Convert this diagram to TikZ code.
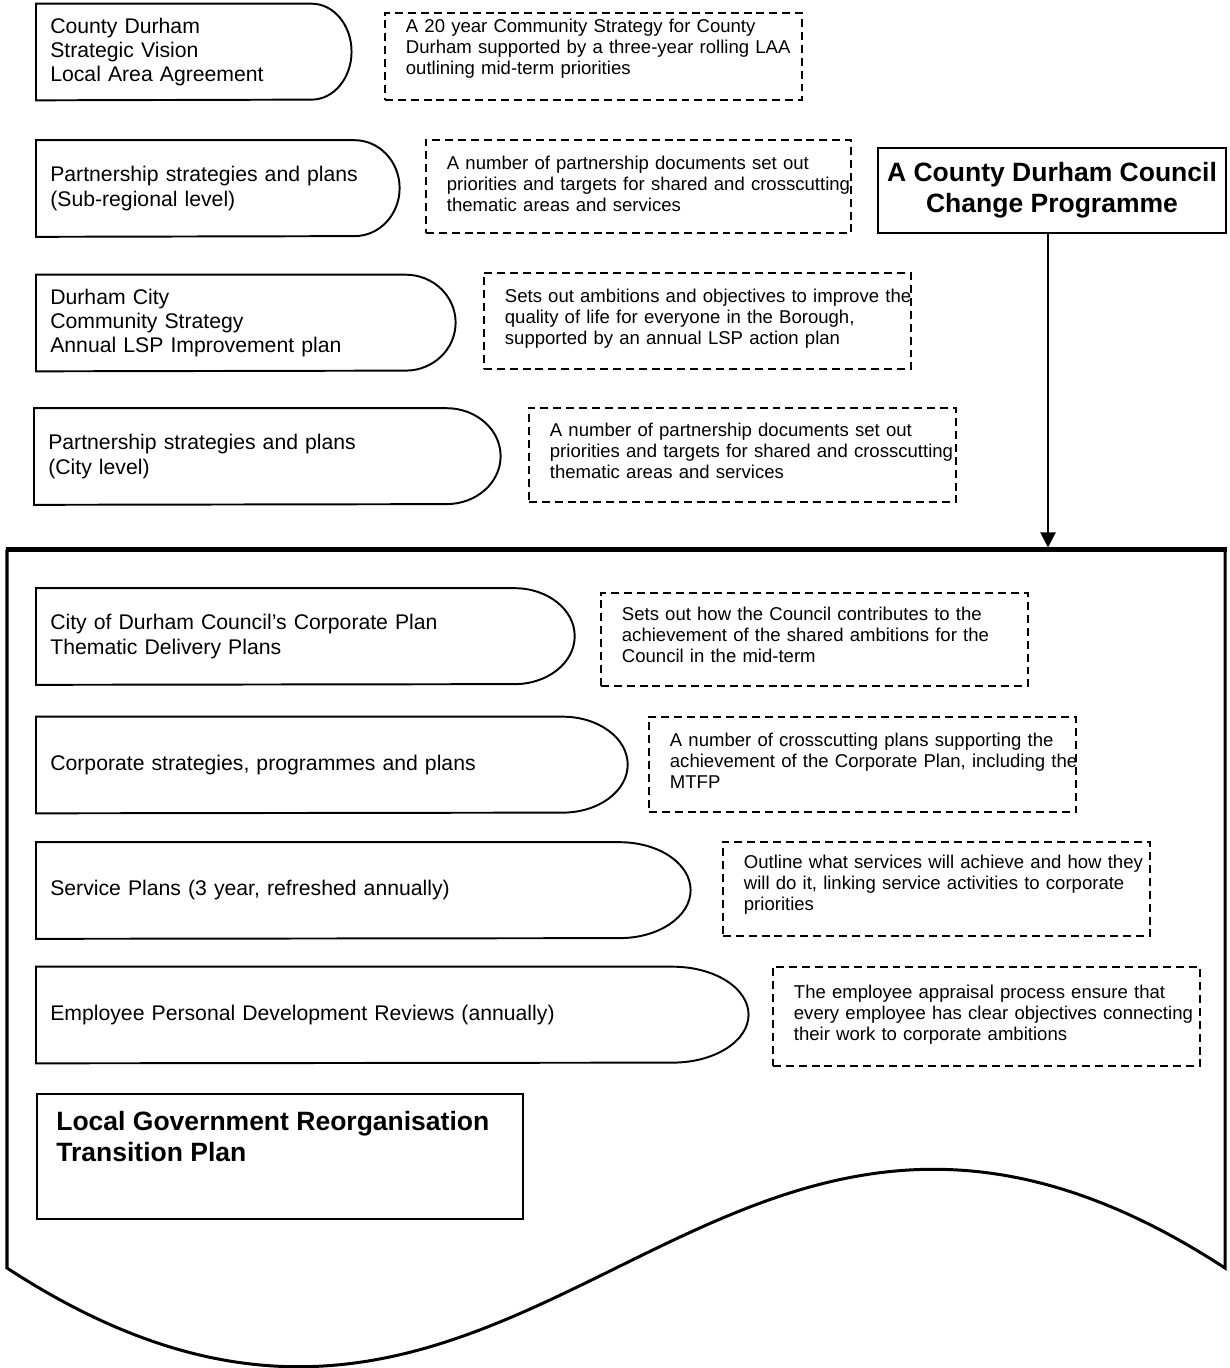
\documentclass[tikz,border=0pt]{standalone}
\usepackage{fontspec}
\setmainfont{Liberation Sans}
\usetikzlibrary{arrows.meta}
\newcommand\notelift[1]{\par\kern#1}

\begin{document}
\begin{tikzpicture}[
  x=0.566pt, y=-0.566pt,
  planline/.style={draw=black, line width=1.1pt},
  plan/.style={font=\fontsize{12}{13.6}\selectfont, align=left, anchor=west, minimum height=54.3pt, inner xsep=7.9pt, inner ysep=0pt,
    append after command={\pgfextra{\draw[planline] (\tikzlastnode.north west) -- ([xshift=-#1]\tikzlastnode.north east) arc[start angle=90, end angle=-90, x radius=#1, y radius=27.15pt] -- (\tikzlastnode.south west) -- cycle;}}},
  note/.style={draw=black, line width=1pt, dash pattern=on 4.5pt off 2.8pt, font=\fontsize{10.5}{11.9}\selectfont, align=left, anchor=west, text width=217.9pt, inner xsep=11.9pt, inner ysep=0pt},
  lift/.style={execute at end node={\notelift{#1}}},
  title/.style={draw=black, line width=1.3pt, font=\fontsize{15}{17.5}\selectfont\bfseries, align=center},
  docline/.style={line width=1.7pt, line join=miter},
  arrow/.style={-{Triangle[length=8.5pt, width=8.5pt]}, line width=1.1pt},
]
\useasboundingbox (0,0) rectangle (1230,1368);

% Council document
\coordinate (docTop) at (1048,547.5);
\draw[docline] (7,549.5) -- (7,1268) .. controls (531,1610) and (701,926) .. (1225,1268) -- (1225,549.5);
\draw[line width=2.3pt] (5.5,549.5) -- (1226.5,549.5);

% Upper level: county and city plans
\node[plan=22.6pt, text width=162.4pt] (vision) at (36,52) {County Durham\\Strategic Vision\\Local Area Agreement};
\node[plan=25.5pt, text width=189.6pt] (subreg) at (36,188.5) {Partnership strategies and plans\\(Sub-regional level)};
\node[plan=28.3pt, text width=221.3pt] (citystrat) at (36,323) {Durham City\\Community Strategy\\Annual LSP Improvement plan};
\node[plan=30.6pt, text width=247.9pt] (citylevel) at (34,456.5) {Partnership strategies and plans\\(City level)};

\node[note, lift=9pt, text width=212.3pt, minimum height=49.2pt] (visionnote) at (384,56.5) {\mbox{A 20 year Community Strategy for County}\\\mbox{Durham supported by a three-year rolling LAA}\\\mbox{outlining mid-term priorities}};
\node[note, lift=3.4pt, text width=216.8pt, minimum height=52.6pt] (subregnote) at (425,186.5) {\mbox{A number of partnership documents set out}\\\mbox{priorities and targets for shared and crosscutting}\\\mbox{thematic areas and services}};
\node[note, lift=2.3pt, minimum height=54.3pt] (citystratnote) at (483,321) {\mbox{Sets out ambitions and objectives to improve the}\\\mbox{quality of life for everyone in the Borough,}\\\mbox{supported by an annual LSP action plan}};
\node[note, lift=4.5pt, minimum height=53.2pt] (citylevelnote) at (528,455) {\mbox{A number of partnership documents set out}\\\mbox{priorities and targets for shared and crosscutting}\\\mbox{thematic areas and services}};

% Change programme
\node[title, minimum width=197pt, minimum height=48.1pt] (change) at (1052,190.5) {A County Durham Council\\Change Programme};
\draw[arrow] (change.south -| docTop) -- (docTop);

% Council level
\node[plan=34pt, text width=288.7pt] (corpplan) at (36,636.5) {City of Durham Council’s Corporate Plan\\Thematic Delivery Plans};
\node[plan=36.8pt, text width=318.7pt] (corpstrat) at (36,765) {Corporate strategies, programmes and plans};
\node[plan=40.2pt, text width=354.3pt] (service) at (36,890.5) {Service Plans (3 year, refreshed annually)};
\node[plan=43pt, text width=387.1pt] (pdr) at (36,1015) {Employee Personal Development Reviews (annually)};

\node[note, lift=5.6pt, minimum height=52.6pt] (corpplannote) at (600,639.5) {\mbox{Sets out how the Council contributes to the}\\\mbox{achievement of the shared ambitions for the}\\\mbox{Council in the mid-term}};
\node[note, lift=4.5pt, minimum height=53.8pt] (corpstratnote) at (648,764.5) {\mbox{A number of crosscutting plans supporting the}\\\mbox{achievement of the Corporate Plan, including the}\\\mbox{MTFP}};
\node[note, lift=4.5pt, minimum height=53.2pt] (servicenote) at (722,889) {\mbox{Outline what services will achieve and how they}\\\mbox{will do it, linking service activities to corporate}\\\mbox{priorities}};
\node[note, lift=1.7pt, minimum height=56pt] (pdrnote) at (772,1016.5) {\mbox{The employee appraisal process ensure that}\\\mbox{every employee has clear objectives connecting}\\\mbox{their work to corporate ambitions}};

% Transition plan
\node[draw, line width=1.1pt, anchor=north west, minimum width=275.1pt, minimum height=70.8pt] (lgr) at (36,1093) {};
\node[font=\fontsize{15}{17.5}\selectfont\bfseries, align=left, anchor=north west, inner sep=0pt] (lgrtext) at (56,1111) {Local Government Reorganisation\\Transition Plan};
\end{tikzpicture}
\end{document}
